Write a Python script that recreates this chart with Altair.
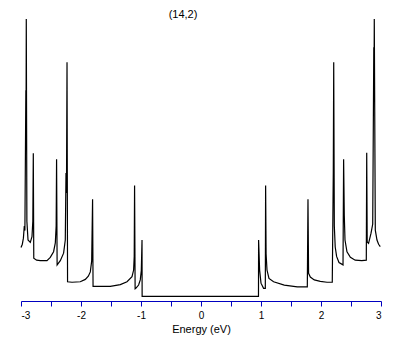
import altair as alt
import pandas as pd

# Energy (eV) and density of states (arb. units)
energy = [
    -3.000, -2.978, -2.960, -2.945, -2.935, -2.919, -2.916, -2.912, -2.902, -2.883,
    -2.845, -2.817, -2.803, -2.795, -2.787, -2.740, -2.678, -2.567, -2.512, -2.457,
    -2.428, -2.414, -2.407, -2.398, -2.345, -2.290, -2.262, -2.250, -2.242, -2.233,
    -2.224, -2.150, -2.012, -1.928, -1.878, -1.845, -1.822, -1.807, -1.799, -1.650,
    -1.512, -1.345, -1.233, -1.150, -1.123, -1.113, -1.107, -1.098, -1.087, -1.040,
    -1.012, -0.995, -0.983, -0.981,
    0.958, 0.960, 0.977, 1.000, 1.043, 1.072, 1.077, 1.085, 1.100, 1.133,
    1.210, 1.388, 1.605, 1.772, 1.783, 1.793, 1.822, 1.888, 1.988, 2.100,
    2.188, 2.205, 2.212, 2.222, 2.237, 2.260, 2.300, 2.367, 2.377, 2.388,
    2.400, 2.433, 2.490, 2.570, 2.680, 2.755, 2.762, 2.770, 2.793, 2.833,
    2.862, 2.880, 2.884, 2.888, 2.905, 2.933, 2.960, 2.988,
]
dos = [
    1.04, 1.11, 1.24, 1.50, 1.40, 4.39, 3.60, 5.91, 1.60, 1.20,
    1.15, 1.27, 1.60, 3.05, 0.81, 0.77, 0.76, 0.76, 0.83, 0.95,
    1.14, 1.50, 2.92, 0.67, 0.76, 0.92, 1.20, 2.63, 2.20, 4.99,
    0.31, 0.30, 0.31, 0.36, 0.43, 0.52, 0.75, 2.07, 0.21, 0.21,
    0.21, 0.25, 0.31, 0.42, 0.56, 0.85, 2.36, 0.16, 0.17, 0.24,
    0.35, 0.55, 1.20, 0.00,
    0.00, 1.20, 0.56, 0.28, 0.17, 0.17, 2.36, 0.90, 0.56, 0.38,
    0.31, 0.24, 0.20, 0.20, 2.07, 0.49, 0.41, 0.35, 0.32, 0.30,
    0.30, 2.65, 4.99, 1.50, 1.05, 0.85, 0.72, 0.67, 2.92, 1.73,
    1.20, 0.95, 0.83, 0.77, 0.76, 0.77, 3.06, 1.16, 1.13, 1.34,
    1.54, 5.31, 4.40, 5.91, 1.41, 1.20, 1.11, 1.06,
]
tick_values = [-3, -2.5, -2, -1.5, -1, -0.5, 0, 0.5, 1, 1.5, 2, 2.5, 3]

df = pd.DataFrame({"E": energy, "D": dos, "i": list(range(len(energy)))})

blue = "#0000c0"
font = "Liberation Sans"

chart = alt.Chart(df).mark_line(color="black", strokeWidth=1.2).encode(
    x=alt.X("E:Q", scale=alt.Scale(domain=[-3, 3], nice=False, zero=False),
            axis=alt.Axis(title="Energy (eV)", values=tick_values,
                          labelExpr="datum.value == round(datum.value) ? '' + datum.value : ''",
                          grid=False, domainColor=blue, tickColor=blue,
                          tickSize=5, labelPadding=4, labelFont=font, labelFontSize=10,
                          labelColor="black", titleFont=font, titleFontSize=11,
                          titleFontWeight="normal", titleColor="black", titlePadding=3,
                          labelOverlap=False)),
    y=alt.Y("D:Q", scale=alt.Scale(domain=[-0.1, 5.91], nice=False, zero=False),
            axis=None),
    order="i:Q",
).properties(
    width=360, height=282,
    title=alt.TitleParams("(14,2)", font=font, fontSize=11, fontWeight="normal",
                          color="black", anchor="middle", dx=-18, dy=3, offset=0),
    padding={"left": 13, "top": 11, "right": 20, "bottom": 36},
    autosize=alt.AutoSizeParams(type="none"),
).configure_view(stroke=None)

chart.save("out.html", embed_options={"renderer": "svg", "actions": False})
